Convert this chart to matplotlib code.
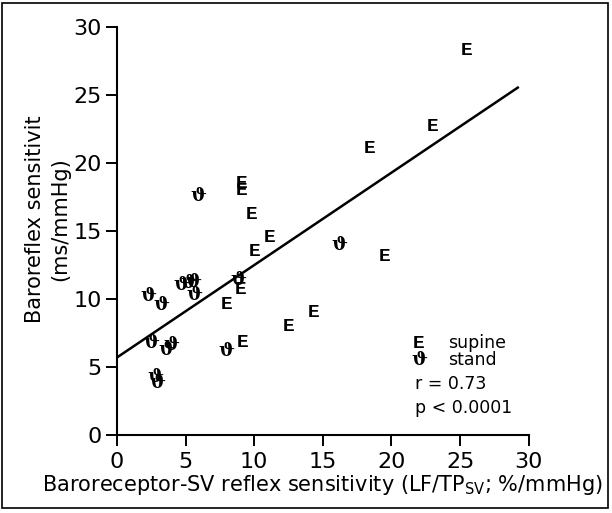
import numpy as np
import matplotlib
matplotlib.use('Agg')
from matplotlib import pyplot as plt
from matplotlib.patches import Rectangle

# supine (E) points
supine_x = [25.5, 23.0, 18.4, 19.5, 14.3, 12.5, 11.1, 10.0, 9.85, 9.1, 9.1, 9.0, 8.0, 9.15]
supine_y = [28.3, 22.7, 21.1, 13.1, 9.0, 8.0, 14.5, 13.5, 16.2, 18.5, 18.0, 10.7, 9.6, 6.8]

# standing (theta) points
stand_x = [5.9, 16.2, 8.85, 7.95, 2.3, 3.25, 4.7, 5.2, 5.55, 5.65, 2.5, 3.6, 4.0, 2.8, 2.95]
stand_y = [17.6, 14.0, 11.4, 6.2, 10.2, 9.56, 11.0, 11.2, 11.25, 10.3, 6.76, 6.25, 6.6, 4.3, 3.8]

# regression line
fit_intercept = 5.7
fit_slope = 0.68
fit_xmax = 29.2

ticks = [0, 5, 10, 15, 20, 25, 30]

E_FONT = dict(family='Liberation Mono', weight='bold', fontsize=14)
TH_FONT = dict(family='DejaVu Serif', weight='bold', fontsize=13.5)

fig = plt.figure(figsize=(6.12, 5.13), dpi=100)
ax = fig.add_axes([0.191, 0.152, 0.673, 0.795])

fx = np.array([0, fit_xmax])
ax.plot(fx, fit_intercept + fit_slope * fx, color='black', lw=1.8)

for x, y in zip(supine_x, supine_y):
    ax.text(x, y, 'E', ha='center', va='center', clip_on=False, **E_FONT)
for x, y in zip(stand_x, stand_y):
    ax.text(x, y, '\u03d1', ha='center', va='center', clip_on=False, **TH_FONT)

# legend and statistics
ax.text(22.0, 6.76, 'E', ha='center', va='center', **E_FONT)
ax.text(24.1, 6.76, 'supine', fontsize=12.5, va='center')
ax.text(22.0, 5.5, '\u03d1', ha='center', va='center', **TH_FONT)
ax.text(24.1, 5.5, 'stand', fontsize=12.5, va='center')
ax.text(21.7, 3.75, 'r = 0.73', fontsize=12.5, va='center')
ax.text(21.7, 2.0, 'p < 0.0001', fontsize=12.5, va='center')

ax.set_xlim(0, 30)
ax.set_ylim(0, 30)
ax.set_xticks(ticks)
ax.set_yticks(ticks)
ax.tick_params(labelsize=16, length=8, width=1.4, direction='out', pad=3)
ax.tick_params(axis='x', pad=4)
for s in ['top', 'right']:
    ax.spines[s].set_visible(False)
for s in ['left', 'bottom']:
    ax.spines[s].set_linewidth(1.5)

ax.set_xlabel(r'Baroreceptor-SV reflex sensitivity (LF/TP$_{\mathregular{SV}}$; %/mmHg)',
              fontsize=15, labelpad=1)
ax.set_ylabel('Baroreflex sensitivit\n(ms/mmHg)', fontsize=15, linespacing=1.3)
ax.yaxis.set_label_coords(-0.114, 0.53)

fig.add_artist(Rectangle((0.004, 0.01), 0.99, 0.985, transform=fig.transFigure,
                         fill=False, lw=1.2, color='black'))

fig.savefig('out.png', dpi=100)
